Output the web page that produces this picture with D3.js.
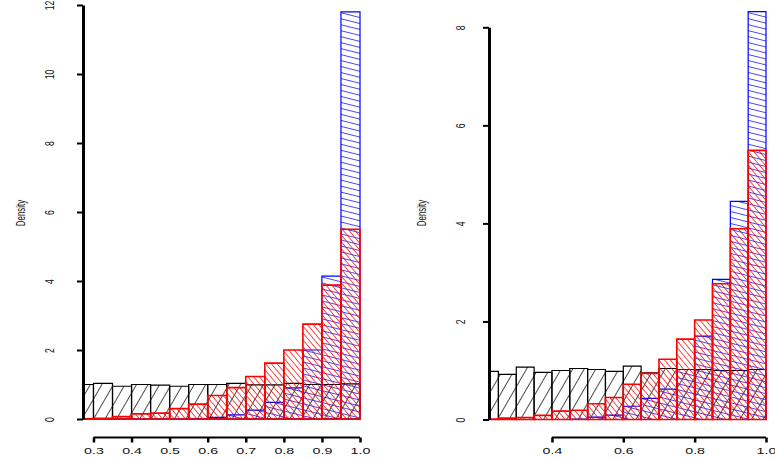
<!DOCTYPE html>
<html>
<head>
<meta charset="utf-8">
<script src="https://cdn.jsdelivr.net/npm/d3@7"></script>
<style>
  body { margin: 0; background: #fff; }
  svg { display: block; font-family: "Liberation Sans", Arial, sans-serif; }
</style>
</head>
<body>
<svg id="chart" width="775" height="459"></svg>
<script>
// bin starts (width 0.05)
var leftBins = [0.25, 0.30, 0.35, 0.40, 0.45, 0.50, 0.55, 0.60, 0.65, 0.70, 0.75, 0.80, 0.85, 0.90, 0.95];
var leftBlack = [1.00, 1.03, 0.95, 1.00, 0.98, 0.95, 1.00, 1.00, 1.03, 0.99, 0.99, 1.03, 1.00, 1.00, 1.02];
var leftRed = [0.01, 0.02, 0.07, 0.15, 0.17, 0.30, 0.43, 0.68, 0.91, 1.23, 1.62, 2.00, 2.75, 3.88, 5.50];
var leftBlue = [0, 0, 0, 0, 0, 0, 0.01, 0.05, 0.12, 0.26, 0.48, 0.90, 2.00, 4.14, 11.80];
var leftYTicks = [0, 2, 4, 6, 8, 10, 12];
var leftXTicks = [0.3, 0.4, 0.5, 0.6, 0.7, 0.8, 0.9, 1.0];

var rightBins = [0.20, 0.25, 0.30, 0.35, 0.40, 0.45, 0.50, 0.55, 0.60, 0.65, 0.70, 0.75, 0.80, 0.85, 0.90, 0.95];
var rightBlack = [0.98, 0.92, 1.07, 0.96, 1.00, 1.04, 1.02, 0.98, 1.09, 0.95, 1.04, 1.02, 1.02, 1.00, 1.00, 1.02];
var rightRed = [0.01, 0.03, 0.04, 0.085, 0.17, 0.19, 0.32, 0.45, 0.72, 0.94, 1.23, 1.64, 2.03, 2.77, 3.89, 5.49];
var rightBlue = [0, 0, 0, 0, 0, 0.01, 0.05, 0.09, 0.27, 0.43, 0.62, 1.02, 1.70, 2.86, 4.45, 8.32];
var rightYTicks = [0, 2, 4, 6, 8];
var rightXTicks = [0.4, 0.6, 0.8, 1.0];

var binWidth = 0.05;
var svg = d3.select("#chart");
var defs = svg.append("defs");

// hatch patterns: lines rotated from vertical
function hatch(id, color, spacing, angle) {
    var p = defs.append("pattern")
        .attr("id", id)
        .attr("patternUnits", "userSpaceOnUse")
        .attr("width", spacing)
        .attr("height", 20)
        .attr("patternTransform", "rotate(" + angle + ")");
    p.append("line")
        .attr("x1", 0).attr("y1", 0).attr("x2", 0).attr("y2", 20)
        .attr("stroke", color).attr("stroke-width", 1.4);
}
hatch("hBlack", "#000", 10, 30);
hatch("hRed", "#ff0000", 4.4, -40);
hatch("hBlue", "#0000ff", 5.8, -76);

var series = function(black, red, blue) {
    return [
        { vals: black, color: "#000", fill: "url(#hBlack)", sw: 1.2 },
        { vals: blue, color: "#0000ff", fill: "url(#hBlue)", sw: 1.2 },
        { vals: red, color: "#ff0000", fill: "url(#hRed)", sw: 1.6 }
    ];
};

function panel(opt) {
    var x = d3.scaleLinear().domain(opt.xDomain).range(opt.xRange);
    var y = d3.scaleLinear().domain(opt.yDomain).range(opt.yRange);

    defs.append("clipPath").attr("id", opt.id + "clip")
        .append("rect")
        .attr("x", opt.xRange[0]).attr("y", 0)
        .attr("width", opt.xRange[1] - opt.xRange[0] + 1)
        .attr("height", opt.yRange[0] + 2);

    var g = svg.append("g").attr("clip-path", "url(#" + opt.id + "clip)");

    opt.series.forEach(function(s) {
        g.selectAll(null)
            .data(opt.bins)
            .enter().append("path")
            .attr("d", function(d, i) {
                var x0 = x(d), x1 = x(d + binWidth), y0 = y(0), y1 = y(s.vals[i]);
                return "M" + x0 + "," + y0 + "V" + y1 + "H" + x1 + "V" + y0 + "Z";
            })
            .attr("fill", s.fill)
            .attr("stroke", s.color)
            .attr("stroke-width", s.sw);
    });

    // y axis
    var ya = svg.append("g")
        .attr("transform", "translate(" + opt.xRange[0] + ",0)")
        .call(d3.axisLeft(y).tickValues(opt.yTicks).tickSize(6).tickSizeOuter(0).tickPadding(0));
    ya.select(".domain").attr("stroke-width", 3);
    ya.selectAll(".tick line").attr("stroke-width", 2);
    ya.selectAll(".tick text")
        .attr("x", null).attr("dy", null)
        .attr("text-anchor", "middle")
        .attr("font-size", 12)
        .attr("fill", "#111")
        .attr("transform", "translate(" + (opt.yLabelX - opt.xRange[0] + 4) + ",0) rotate(-90) scale(0.72,1)");

    svg.append("text")
        .attr("text-anchor", "middle")
        .attr("font-size", 12)
        .attr("fill", "#111")
        .attr("transform", "translate(" + (opt.titleX + 4) + "," + opt.titleY + ") rotate(-90) scale(0.66,1)")
        .text("Density");

    // x axis
    var xa = svg.append("g")
        .attr("transform", "translate(0," + opt.xAxisY + ")")
        .call(d3.axisBottom(x).tickValues(opt.xTicks).tickSize(5).tickFormat(d3.format(".1f")));
    xa.select(".domain").remove();
    xa.append("line")
        .attr("x1", x(opt.xTicks[0]))
        .attr("x2", x(opt.xTicks[opt.xTicks.length - 1]))
        .attr("stroke", "#000").attr("stroke-width", 2);
    xa.selectAll(".tick line").attr("stroke-width", 2.5);
    xa.selectAll(".tick text")
        .attr("y", null).attr("dy", null)
        .attr("font-size", 9.5)
        .attr("fill", "#111")
        .attr("text-anchor", "middle")
        .attr("transform", "translate(0,16) scale(1.5,1)");
}

panel({
    id: "left",
    bins: leftBins,
    series: series(leftBlack, leftRed, leftBlue),
    xDomain: [0.2725, 1.0], xRange: [83, 360],
    yDomain: [0, 12], yRange: [419, 5],
    yTicks: leftYTicks, xTicks: leftXTicks,
    yLabelX: 50, titleX: 21, titleY: 213, xAxisY: 437.5
});

panel({
    id: "right",
    bins: rightBins,
    series: series(rightBlack, rightRed, rightBlue),
    xDomain: [0.2236, 1.0], xRange: [489, 766],
    yDomain: [0, 8], yRange: [419.5, 27.3],
    yTicks: rightYTicks, xTicks: rightXTicks,
    yLabelX: 461, titleX: 422, titleY: 213, xAxisY: 437.5
});
</script>
</body>
</html>
